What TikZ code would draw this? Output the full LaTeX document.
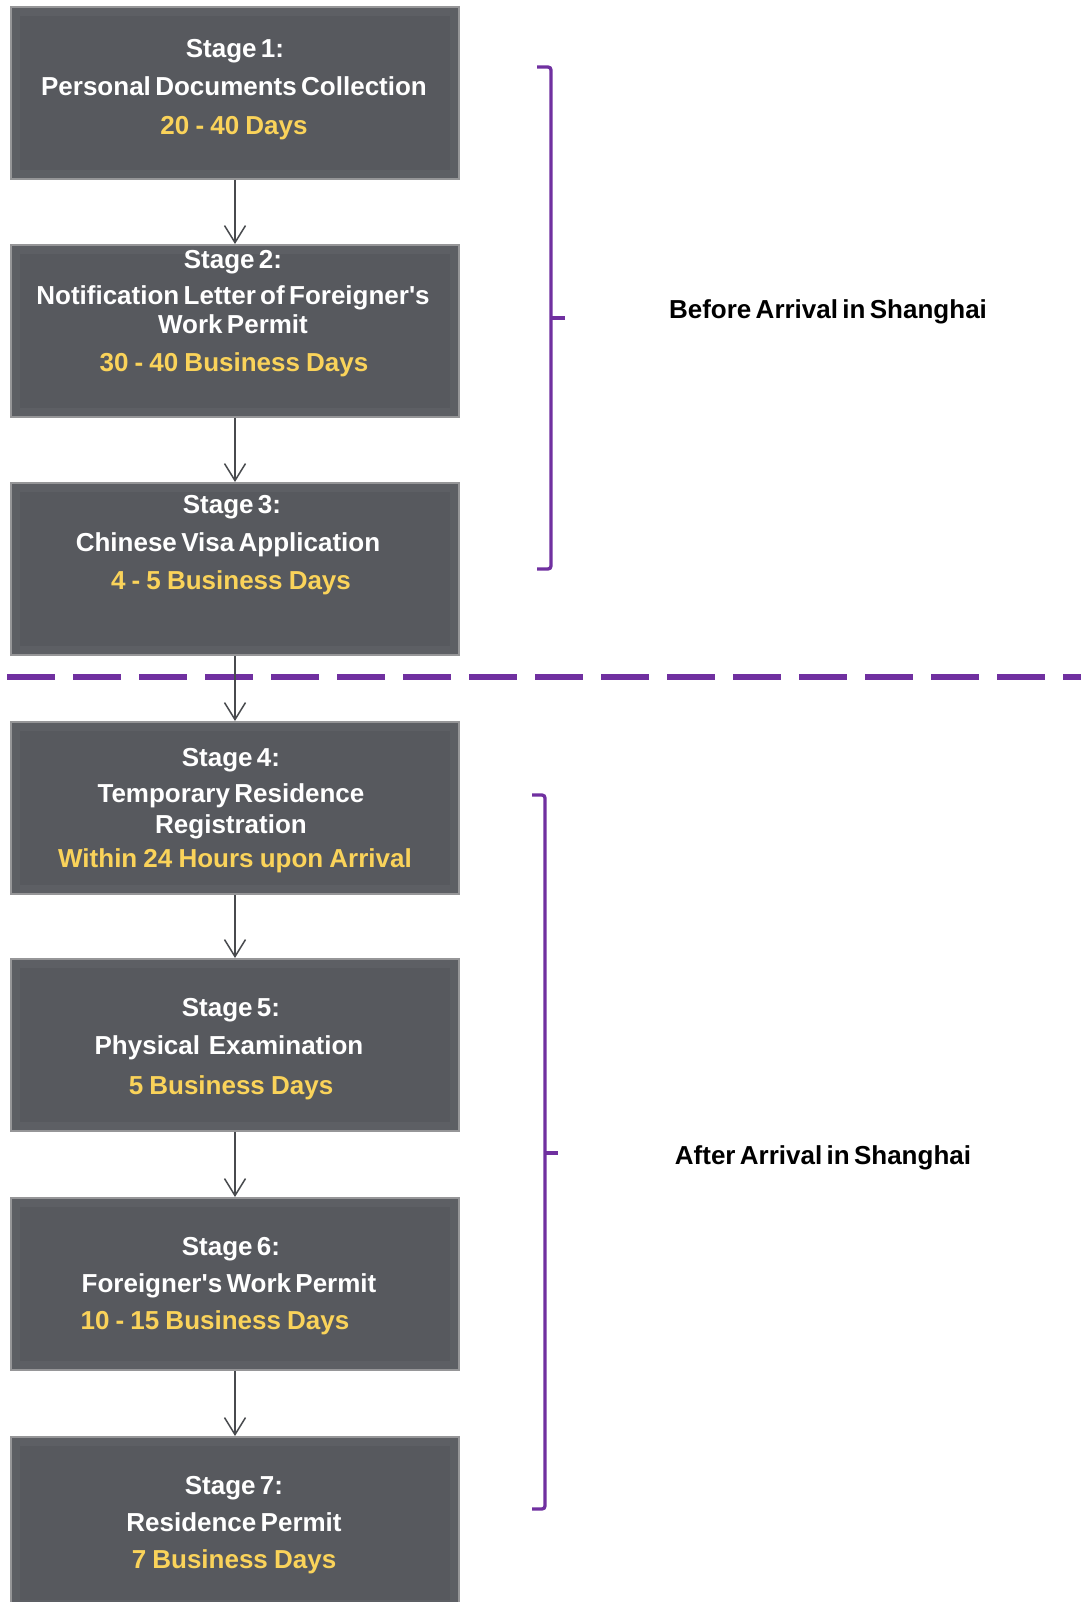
\documentclass[tikz,border=0pt]{standalone}
\usepackage{fontspec}
\setmainfont{Liberation Sans}[WordSpace=0.6]
\newfontfamily\durfont{Liberation Sans}[WordSpace=0.85]
\usetikzlibrary{arrows.meta}
\definecolor{boxfill}{RGB}{93,95,100}
\definecolor{boxin}{RGB}{87,89,94}
\definecolor{boxedge}{RGB}{150,150,152}
\definecolor{gold}{RGB}{250,211,90}
\definecolor{purp}{RGB}{112,48,160}
\definecolor{arrgray}{RGB}{72,74,78}
\font\apof="Liberation Sans/B" at 26pt
\newcommand{\apo}{{\apof '}}
\tikzset{
  stagebox/.style={draw=boxedge, line width=2pt, fill=boxfill, minimum width=448pt, minimum height=172pt, inner sep=0pt,
    path picture={\fill[boxin] ([shift={(9pt,9pt)}]path picture bounding box.south west) rectangle ([shift={(-9pt,-9pt)}]path picture bounding box.north east);}},
  ttl/.style={text=white, font=\fontsize{26}{30}\selectfont\bfseries, anchor=base, inner sep=0pt},
  dur/.style={text=gold, font=\durfont\fontsize{26}{30}\selectfont\bfseries, anchor=base, inner sep=0pt},
  side/.style={text=black, font=\fontsize{26}{30}\selectfont\bfseries, inner sep=0pt},
  arr/.style={draw=arrgray, line width=1.5pt, -{Straight Barb[length=17pt,width=21pt,line width=1.5pt]}},
  brace/.style={draw=purp, line width=3.3pt, rounded corners=3pt},
  divider/.style={draw=purp, line width=6.5pt, dash pattern=on 48pt off 18pt}
}
\begin{document}
\begin{tikzpicture}[x=1pt,y=-1pt]
\useasboundingbox (0,0) rectangle (1080,1602);
\fill[white] (0,0) rectangle (1080,1602);

% boxes
\node[stagebox] (b1) at (235,93) {};
\node[stagebox] (b2) at (235,331) {};
\node[stagebox] (b3) at (235,569) {};
\node[stagebox] (b4) at (235,808) {};
\node[stagebox] (b5) at (235,1045) {};
\node[stagebox] (b6) at (235,1284) {};
\node[stagebox] (b7) at (235,1523) {};

% texts
\node[ttl] (t1a) at (235,58) {Stage 1:};
\node[ttl] (t1b) at (234,96) {Personal Documents Collection};
\node[dur] (t1c) at (234,135) {20 - 40 Days};

\node[ttl] (t2a) at (233,269) {Stage 2:};
\node[ttl] (t2b) at (233,305) {Notification Letter of Foreigner\apo s};
\node[ttl] (t2c) at (233,334) {Work Permit};
\node[dur] (t2d) at (234,371) {30 - 40 Business Days};

\node[ttl] (t3a) at (232,513) {Stage 3:};
\node[ttl] (t3b) at (228,551) {Chinese Visa Application};
\node[dur] (t3c) at (231,589) {4 - 5 Business Days};

\node[ttl] (t4a) at (231,766) {Stage 4:};
\node[ttl] (t4b) at (231,802) {Temporary Residence};
\node[ttl] (t4c) at (231,833) {Registration};
\node[dur] (t4d) at (235,867) {Within 24 Hours upon Arrival};

\node[ttl] (t5a) at (231,1016) {Stage 5:};
\node[ttl] (t5b) at (229,1054) {Physical\ \ Examination};
\node[dur] (t5c) at (231,1094) {5 Business Days};

\node[ttl] (t6a) at (231,1255) {Stage 6:};
\node[ttl] (t6b) at (229,1292) {Foreigner\apo s Work Permit};
\node[dur] (t6c) at (215,1329) {10 - 15 Business Days};

\node[ttl] (t7a) at (234,1494) {Stage 7:};
\node[ttl] (t7b) at (234,1531) {Residence Permit};
\node[dur] (t7c) at (234,1568) {7 Business Days};

% divider
\draw[divider] (7,677) -- (1090,677);

% arrows
\draw[arr] (b1.south) -- (b2.north);
\draw[arr] (b2.south) -- (b3.north);
\draw[arr] (b3.south) -- (b4.north);
\draw[arr] (b4.south) -- (b5.north);
\draw[arr] (b5.south) -- (b6.north);
\draw[arr] (b6.south) -- (b7.north);

% brackets
\draw[brace] (537,67) -- (551,67) -- (551,569) -- (537,569);
\draw[brace] (551,318) -- (565,318);
\draw[brace] (532,795) -- (545,795) -- (545,1509) -- (532,1509);
\draw[brace] (545,1153) -- (558,1153);

% side labels
\node[side] (before) at (828,312) {Before Arrival in Shanghai};
\node[side] (after) at (823,1158) {After Arrival in Shanghai};
\end{tikzpicture}
\end{document}
